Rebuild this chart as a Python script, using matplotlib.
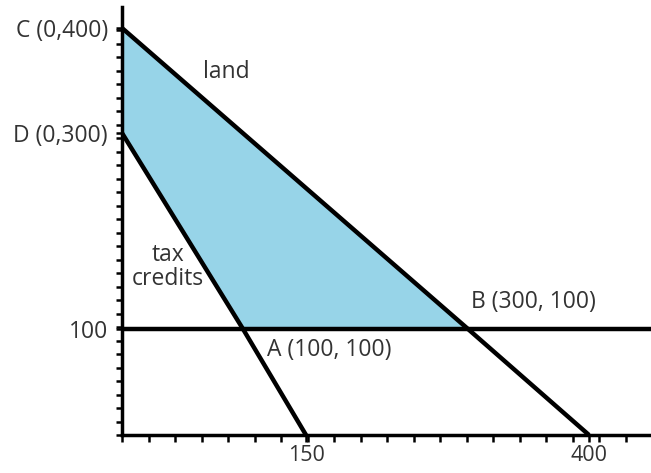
import numpy as np
import matplotlib.pyplot as plt

# constraint lines (x, y) from the sketch labels
land_x = [0, 300, 400]
land_y = [400, 100, 0]
tax_x = [0, 100, 150]
tax_y = [300, 100, 0]
min_y = 100
region_x = [0, 300, 100, 0]   # C, B, A, D
region_y = [400, 100, 100, 300]

y_ticks = [400, 300, 100]
y_labels = ['C (0,400)', 'D (0,300)', '100']
x_ticks = [150, 400]
x_labels = ['150', '400']

# the sketch is not drawn to scale, so map values to where they sit on paper
xd = [0, 100, 150, 300, 400, 500]
xp = [0, 121, 184, 346, 467, 588]
yd = [0, 100, 300, 400, 500]
yp = [0, 106, 302, 407, 512]


def fx(v):
    return np.interp(v, xd, xp)


def ix(v):
    return np.interp(v, xp, xd)


def fy(v):
    return np.interp(v, yd, yp)


def iy(v):
    return np.interp(v, yp, yd)


plt.rcParams['font.family'] = ['Open Sans', 'DejaVu Sans']
fs = 16.5

fig = plt.figure(figsize=(6.51, 4.73), dpi=100)
ax = fig.add_axes([122 / 651, 38 / 473, 529 / 651, 428 / 473])
ax.set_xscale('function', functions=(fx, ix))
ax.set_yscale('function', functions=(fy, iy))
ax.set_xlim(0, ix(529))
ax.set_ylim(0, iy(428))

ax.fill(region_x, region_y, color='#97d4e8', lw=0, zorder=1)
ax.plot(land_x, land_y, color='black', lw=3.2, solid_capstyle='butt', zorder=3)
ax.plot(tax_x, tax_y, color='black', lw=3.2, solid_capstyle='butt', zorder=3)
ax.axhline(min_y, color='black', lw=3.2, zorder=3)

for s in ['top', 'right']:
    ax.spines[s].set_visible(False)
for s in ['left', 'bottom']:
    ax.spines[s].set_linewidth(2.5)
    ax.spines[s].set_zorder(4)

ax.set_yticks(y_ticks, y_labels)
ax.set_xticks(x_ticks, x_labels)
ax.set_xticks(ix(np.arange(0, 529, 26.5)), minor=True)
ax.set_yticks(iy(np.arange(0, 410, 13.5)), minor=True)
ax.tick_params(axis='both', which='both', direction='out', width=1.8,
               colors='black', labelsize=fs)
ax.tick_params(axis='y', which='both', length=4, pad=6)
ax.tick_params(axis='x', which='both', length=5, pad=2, labelsize=15.5)
for t in ax.get_xticklabels() + ax.get_yticklabels():
    t.set_color('#333333')


def px(x, y):
    return (x - 122) / 529, (435 - y) / 428


ax.text(*px(226, 72), 'land', transform=ax.transAxes, fontsize=fs,
        ha='center', va='center', color='#333333')
ax.text(*px(168, 267), 'tax\ncredits', transform=ax.transAxes, fontsize=fs,
        ha='center', va='center', color='#333333', linespacing=1.05)
ax.text(*px(267, 350), 'A (100, 100)', transform=ax.transAxes, fontsize=fs,
        ha='left', va='center', color='#333333')
ax.text(*px(471, 302), 'B (300, 100)', transform=ax.transAxes, fontsize=fs,
        ha='left', va='center', color='#333333')

plt.savefig('out.png', dpi=100)
plt.close()
